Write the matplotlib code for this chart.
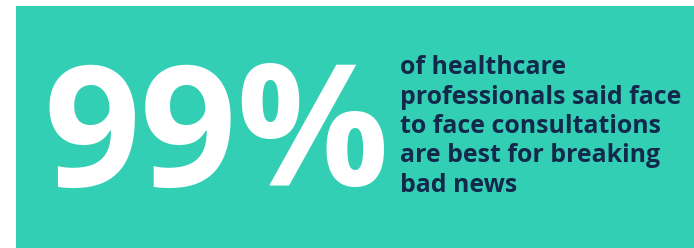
import matplotlib.pyplot as plt
from matplotlib.patches import Rectangle

# Content
big_number = "99%"
caption_lines = [
    "of healthcare",
    "professionals said face",
    "to face consultations",
    "are best for breaking",
    "bad news",
]

teal = "#33cfb4"
navy = "#13294b"

fig = plt.figure(figsize=(6.94, 2.48), dpi=100)
ax = fig.add_axes([0, 0, 1, 1])
ax.set_xlim(0, 694)
ax.set_ylim(248, 0)
ax.axis("off")

# background panel
ax.add_patch(Rectangle((16, 6), 700, 260, color=teal, lw=0))

# big figure
ax.text(44, 186, big_number, color="white", fontsize=122, fontweight="bold",
        family="Open Sans", ha="left", va="baseline")

# caption
for i, line in enumerate(caption_lines):
    ax.text(400, 74 + i * 29.5, line, color=navy, fontsize=17.9, fontweight="bold",
            family="Open Sans", ha="left", va="baseline")

fig.savefig("out.png", dpi=100)
